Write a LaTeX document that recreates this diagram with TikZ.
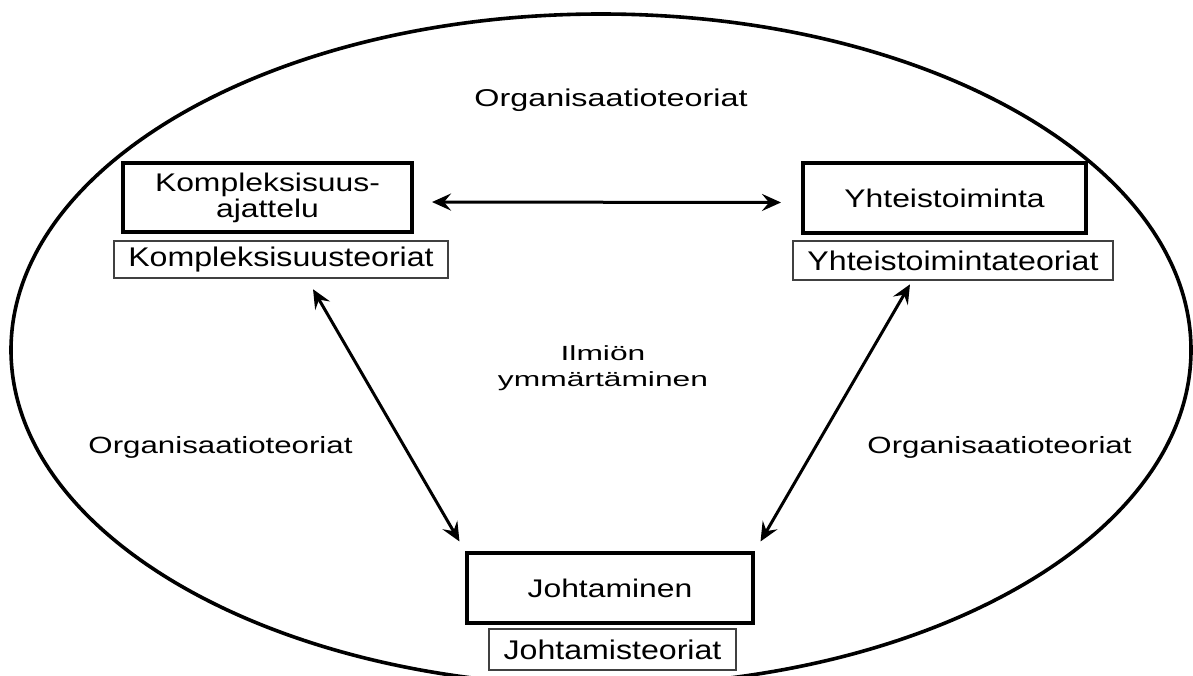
\documentclass[tikz,border=0pt]{standalone}
\usepackage{fontspec}
\setmainfont{Liberation Sans}
\newfontfamily\titlefont[FakeStretch=1.25]{Liberation Sans}
\newfontfamily\theoryfont[FakeStretch=1.19]{Liberation Sans}
\newfontfamily\labelfont[FakeStretch=1.33]{Liberation Sans}
\newfontfamily\middlefont[FakeStretch=1.55]{Liberation Sans}
\usetikzlibrary{arrows.meta,calc}

\begin{document}
\begin{tikzpicture}[x=1pt,y=-1pt,
  concept/.style={draw=black, line width=4pt, inner sep=0pt, align=center,
    font=\titlefont\fontsize{25.5}{26}\selectfont},
  theory/.style={draw=black!75, line width=1.7pt, inner sep=0pt,
    font=\theoryfont\fontsize{27}{30}\selectfont},
  area/.style={font=\labelfont\fontsize{23.5}{26}\selectfont},
  link/.style={line width=3pt, {Stealth[length=19pt,width=17pt,inset=7pt]}-{Stealth[length=19pt,width=17pt,inset=7pt]}}
]
\useasboundingbox (0,0) rectangle (1193,675);

% the surrounding field, cut off at the lower edge
\begin{scope}
  \clip (0,0) rectangle (1193,675);
  \draw[line width=3.6pt] (601,350) ellipse [x radius=590pt, y radius=336pt];
\end{scope}

% the three topics and their theory boxes
\node[concept, minimum width=289pt, minimum height=69pt] (kompl) at (267.5,197.5) {Kompleksisuus-\\ajattelu};
\node[theory, minimum width=334pt, minimum height=37pt] (komplt) at (281,259.5) {Kompleksisuusteoriat};

\node[concept, minimum width=283pt, minimum height=70pt] (yht) at (944.5,198) {Yhteistoiminta};
\node[theory, minimum width=320pt, minimum height=39pt] (yhtt) at (953,260.5) {Yhteistoimintateoriat};

\node[concept, minimum width=286pt, minimum height=70pt] (joht) at (610,588) {Johtaminen};
\node[theory, minimum width=247pt, minimum height=41pt] (johtt) at (612.5,649.5) {Johtamisteoriat};

% field labels
\node[area, font=\labelfont\fontsize{24.3}{26}\selectfont] (orgtop) at (611,100) {Organisaatioteoriat};
\node[area] (orgleft) at (220.5,447) {Organisaatioteoriat};
\node[area] (orgright) at (999.5,447) {Organisaatioteoriat};
\node[align=center, font=\middlefont\fontsize{20.5}{26}\selectfont] (ilmio) at (603,368) {Ilmiön\\ymmärtäminen};

% two-way links between the topics
\draw[link, shorten <=18pt, shorten >=20pt] ([yshift=-4.5pt]kompl.east) -- ([yshift=-4.5pt]yht.west);
\draw[link, shorten <=12pt, shorten >=11pt] ($(komplt.south)+(26,0)$) -- (joht.north west);
\draw[link, shorten <=4pt, shorten >=11pt] ($(yhtt.south)+(-41,0)$) -- (joht.north east);
\end{tikzpicture}
\end{document}
